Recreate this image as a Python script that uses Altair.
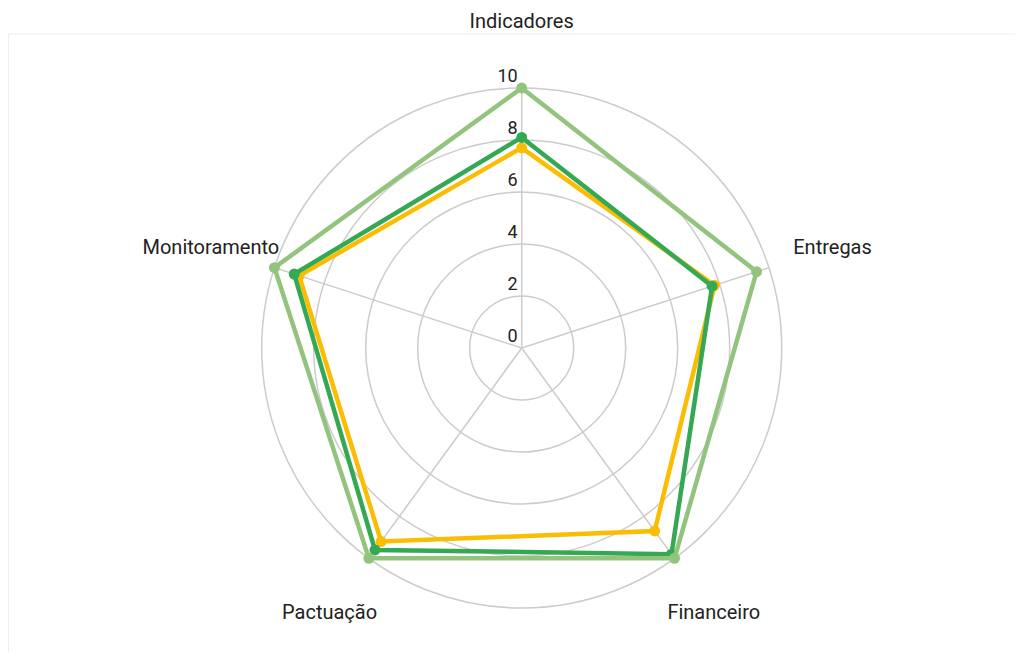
import altair as alt
import pandas as pd
import math

categories = ["Indicadores", "Entregas", "Financeiro", "Pactuação", "Monitoramento"]
series_names = ["Série 1", "Série 2", "Série 3"]
serie_light = [10, 9.5, 10, 10, 10]
serie_dark = [8.1, 7.7, 9.8, 9.6, 9.2]
serie_yellow = [7.7, 7.8, 8.7, 9.2, 9.0]
ticks = [0, 2, 4, 6, 8, 10]
colors = ["#93c47d", "#34a853", "#fbbc04"]

UNIT = 26.0
W, H = 1007, 644
CX, CY = 513.7, 340.0
xmin = -CX / UNIT
xmax = xmin + W / UNIT
ymax = CY / UNIT
ymin = ymax - H / UNIT

rows = []
for s, vals in zip(series_names, [serie_light, serie_dark, serie_yellow]):
    for i in range(len(categories) + 1):
        k = i % len(categories)
        rows.append({"serie": s, "cat": categories[k], "idx": k, "ord": i, "v": vals[k]})
df = pd.DataFrame(rows)
df_pts = df[df["ord"] < len(categories)]

cats_df = pd.DataFrame({"cat": categories, "idx": list(range(len(categories)))})
ticks_df = pd.DataFrame({"t": ticks})

xs = alt.Scale(domain=[xmin, xmax], nice=False, zero=False)
ys = alt.Scale(domain=[ymin, ymax], nice=False, zero=False)
color_scale = alt.Scale(domain=series_names, range=colors)

ang = "(90 - 72 * datum.idx) * PI / 180"

border = alt.Chart(pd.DataFrame({"a": [0]})).mark_rect(
    fill="transparent", stroke="#eeeeee", strokeWidth=1
).encode(x=alt.value(0.5), x2=alt.value(W + 20), y=alt.value(26), y2=alt.value(H + 20))

circles = alt.Chart(ticks_df[ticks_df["t"] > 0]).mark_arc(
    filled=False, stroke="#cccccc", strokeWidth=1.5
).encode(
    theta=alt.value(0),
    theta2=alt.value(2 * math.pi),
    radius=alt.Radius("t:Q", stack=None,
                      scale=alt.Scale(type="linear", domain=[0, 10], range=[0, 10 * UNIT], zero=True)),
    x=alt.value(CX),
    y=alt.value(CY),
)

spokes = alt.Chart(cats_df).transform_calculate(
    x0="0", y0="0",
    x1=f"10 * cos({ang})", y1=f"10 * sin({ang})"
).mark_rule(stroke="#cccccc", strokeWidth=1.5).encode(
    x=alt.X("x0:Q", scale=xs, axis=None),
    y=alt.Y("y0:Q", scale=ys, axis=None),
    x2="x1:Q", y2="y1:Q",
)

tick_text = alt.Chart(ticks_df).transform_calculate(
    x0="0", lbl="toString(datum.t)"
).mark_text(
    align="right", baseline="alphabetic", dx=-4, dy=-6, font="Roboto", fontSize=18, color="#222222"
).encode(
    x=alt.X("x0:Q", scale=xs, axis=None),
    y=alt.Y("t:Q", scale=ys, axis=None),
    text="lbl:N",
)

cat_text = alt.Chart(cats_df).transform_calculate(
    lx=f"12.57 * cos({ang})", ly=f"12.57 * sin({ang})"
).mark_text(
    align="center", baseline="middle", font="Roboto", fontSize=20, color="#222222", dy=1
).encode(
    x=alt.X("lx:Q", scale=xs, axis=None),
    y=alt.Y("ly:Q", scale=ys, axis=None),
    text="cat:N",
)

lines = alt.Chart(df).transform_calculate(
    px=f"datum.v * cos({ang})", py=f"datum.v * sin({ang})"
).mark_line(strokeWidth=4.5).encode(
    x=alt.X("px:Q", scale=xs, axis=None),
    y=alt.Y("py:Q", scale=ys, axis=None),
    color=alt.Color("serie:N", scale=color_scale, legend=None),
    order="ord:Q",
    detail="serie:N",
)
points = alt.Chart(df_pts).transform_calculate(
    px=f"datum.v * cos({ang})", py=f"datum.v * sin({ang})"
).mark_circle(size=120, opacity=1).encode(
    x=alt.X("px:Q", scale=xs, axis=None),
    y=alt.Y("py:Q", scale=ys, axis=None),
    color=alt.Color("serie:N", scale=color_scale, legend=None),
)

layers = [border, circles, spokes, tick_text, cat_text]
for s in ["Série 3", "Série 2", "Série 1"]:
    layers.append(lines.transform_filter(alt.datum.serie == s))
    layers.append(points.transform_filter(alt.datum.serie == s))

chart = alt.layer(*layers).properties(
    width=W, height=H, padding=0,
    autosize=alt.AutoSizeParams(type="none"),
).configure_view(stroke=None)

chart.save("out.html", embed_options={"renderer": "svg", "actions": False})
